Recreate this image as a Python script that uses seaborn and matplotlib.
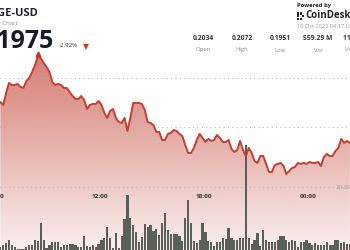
import numpy as np
import pandas as pd
import matplotlib
matplotlib.use("Agg")
import matplotlib.pyplot as plt
import seaborn as sns
from matplotlib.colors import to_rgb
from matplotlib.patches import Rectangle

sns.set_style("white")
plt.rcParams['font.family'] = ['Open Sans', 'DejaVu Sans']

# ---------------- data ----------------
times = pd.date_range("2025-10-15 06:15", periods=122, freq="10min")
hours = np.asarray((times - pd.Timestamp("2025-10-15")) / pd.Timedelta(hours=1))

price = [0.20255, 0.20224, 0.20347, 0.20449, 0.20428, 0.20428, 0.20439, 0.20408, 0.20398, 0.20469,
         0.20500, 0.20561, 0.20632, 0.20720, 0.20700, 0.20653, 0.20612, 0.20561, 0.20459, 0.20428,
         0.20439, 0.20428, 0.20398, 0.20398, 0.20357, 0.20316, 0.20286, 0.20286, 0.20316, 0.20275,
         0.20184, 0.20224, 0.20235, 0.20235, 0.20265, 0.20224, 0.20143, 0.20092, 0.20163, 0.20184,
         0.20092, 0.20051, 0.20041, 0.20092, 0.19959, 0.20092, 0.20245, 0.20245, 0.20245, 0.20235,
         0.20173, 0.20051, 0.20041, 0.20020, 0.19949, 0.19949, 0.19867, 0.19867, 0.19929, 0.19939,
         0.19969, 0.19959, 0.19929, 0.19908, 0.19816, 0.19735, 0.19735, 0.19786, 0.19867, 0.19929,
         0.19888, 0.19847, 0.19878, 0.19857, 0.19867, 0.19918, 0.19888, 0.19847, 0.19847, 0.19867,
         0.19776, 0.19745, 0.19765, 0.19857, 0.19765, 0.19704, 0.19786, 0.19735, 0.19653, 0.19633,
         0.19704, 0.19704, 0.19623, 0.19541, 0.19541, 0.19612, 0.19623, 0.19633, 0.19602, 0.19520,
         0.19551, 0.19582, 0.19592, 0.19633, 0.19623, 0.19633, 0.19623, 0.19643, 0.19633, 0.19633,
         0.19643, 0.19602, 0.19694, 0.19725, 0.19704, 0.19704, 0.19755, 0.19786, 0.19878, 0.19837,
         0.19857, 0.19837]

volume_m = [0.95, 1.59, 2.22, 3.18, 1.59, 0.95, 0.32, 0.32, 0.32, 0.95,
            1.59, 1.59, 3.18, 2.86, 8.57, 3.18, 0.64, 1.59, 2.54, 2.54,
            2.54, 0.95, 1.59, 1.59, 1.91, 1.91, 1.59, 0.95, 0.95, 4.45,
            1.27, 0.95, 1.59, 0.95, 1.91, 3.18, 3.81, 7.30, 3.81, 0.64,
            5.40, 0.64, 4.45, 9.84, 17.46, 10.16, 7.94, 5.72, 2.54, 4.13,
            8.26, 7.30, 7.94, 6.03, 6.67, 4.76, 8.57, 11.75, 6.35, 5.08,
            5.08, 5.08, 4.45, 2.86, 10.16, 15.87, 8.57, 2.86, 2.22, 3.18,
            8.57, 5.72, 2.86, 2.54, 1.27, 2.54, 2.54, 3.81, 3.49, 6.99,
            3.81, 3.18, 3.18, 3.81, 3.81, 33.34, 3.81, 1.91, 3.18, 5.40,
            1.27, 6.35, 3.18, 2.54, 2.54, 2.54, 3.18, 4.45, 4.45, 3.18,
            2.54, 3.18, 2.86, 0.95, 2.54, 2.54, 3.18, 2.22, 1.59, 2.22,
            1.59, 1.59, 1.59, 2.54, 1.59, 1.59, 3.18, 3.18, 2.22, 2.54,
            1.91, 1.91]

tick_hours = [6, 12, 18, 24]
tick_labels = ["06:00", "12:00", "18:00", "00:00"]
price_grid = [0.2000, 0.2050]
volume_grid = [20]

stat_values = ["0.2034", "0.2072", "0.1951", "559.29 M", "111.16 M"]
stat_names = ["Open", "High", "Low", "Vol", "Vol (USD)"]

# ---------------- layout constants ----------------
W, H = 350, 250
XMIN, XMAX = 6.231, 26.423
PMIN, PMAX = 0.18745, 0.21295
VMAX = 79.37
LINE_C = "#c23f33"

fig = plt.figure(figsize=(3.5, 2.5), dpi=100)
fig.patch.set_facecolor("white")

def px(x, y):
    return x / W, 1 - y / H

# price fill axis
ax = fig.add_axes([0, 0, 1, 1])
grad = np.linspace(1, 0, 256).reshape(-1, 1)
rgba = np.zeros((256, 1, 4))
rgba[..., :3] = to_rgb("#c0392b")
rgba[..., 3] = 0.08 + 0.74 * grad
im = ax.imshow(rgba, extent=[XMIN, XMAX, PMIN, PMAX], aspect="auto",
               origin="upper", zorder=1)
poly = ax.fill_between(hours, price, PMIN, color="none", lw=0)
im.set_clip_path(poly.get_paths()[0], transform=ax.transData)
for g in price_grid:
    ax.axhline(g, color="#b0b0b0", lw=0.7, ls=(0, (1, 3.5)), zorder=3)
ax.set_xlim(XMIN, XMAX)
ax.set_ylim(PMIN, PMAX)
ax.axis("off")

# volume axis
axv = fig.add_axes([0, 0, 1, 1])
axv.patch.set_alpha(0)
sns.barplot(x=hours, y=volume_m, native_scale=True, ax=axv, color="#5a6058",
            width=0.8, linewidth=0, errorbar=None, saturation=1)
for g in volume_grid:
    axv.axhline(g, color="#b0b0b0", lw=0.7, ls=(0, (1, 3.5)), zorder=0)
axv.set_xlim(XMIN, XMAX)
axv.set_ylim(0, VMAX)
axv.axis("off")

# price line axis
axl = fig.add_axes([0, 0, 1, 1])
axl.patch.set_alpha(0)
sns.lineplot(x=hours, y=price, ax=axl, color=LINE_C, lw=1.4)
imax = int(np.argmax(price))
axl.plot([hours[imax]], [price[imax] + 0.0002], marker="^", color="#c0392b",
         markersize=3.5, lw=0)
axl.set_xlim(XMIN, XMAX)
axl.set_ylim(PMIN, PMAX)
axl.axis("off")

# time labels
for th, tl in zip(tick_hours, tick_labels):
    axl.text(th, 1 - 196 / H, tl, transform=axl.get_xaxis_transform(),
             ha="center", va="center", fontsize=4.6, weight="bold", color="#333333")
axv.text(1 - 14 / W, 20, "20,000,000", transform=axv.get_yaxis_transform(),
         ha="left", va="center", fontsize=4.6, color="#9a9a9a")

# header texts
fig.text(*px(38, 13.5), "DOGE-USD", ha="right", va="center", fontsize=8,
         weight="bold", color="#1c2230")
fig.text(*px(18, 23.5), "24 Hour Chart", ha="right", va="center", fontsize=4.3,
         color="#8a8a8a")
fig.text(*px(53, 41), "0.1975", ha="right", va="center", fontsize=18,
         weight="bold", color="#151b27")
fig.text(*px(59, 46), "-2.92%", ha="left", va="center", fontsize=4.4, color="#333333")
fig.text(*px(86, 46.5), "▼", ha="center", va="center", fontsize=5.5, color="#c0392b",
         family=["DejaVu Sans"])

# powered by
fig.text(*px(297, 5), "Powered by", ha="left", va="center", fontsize=4.2,
         weight="bold", color="#222222")
for (cx, cy, s) in [(297, 12.5, 2), (297, 15, 2), (297, 17.5, 2), (299.5, 12.5, 2),
                    (299.5, 17.5, 2), (302, 15, 2)]:
    x0, y0 = px(cx, cy + s)
    fig.add_artist(Rectangle((x0, y0), s / W, s / H, transform=fig.transFigure,
                             color="#222222", lw=0))
fig.text(*px(305, 16), "CoinDesk", ha="left", va="center", fontsize=7,
         weight="bold", color="#222222")
fig.text(*px(297, 27), "16 Oct 2025 04:17 UTC", ha="left", va="center",
         fontsize=4.1, color="#9a9a9a")

stat_x = [203, 242, 280, 318, 358]
for sx, sv, sn in zip(stat_x, stat_values, stat_names):
    fig.text(*px(sx, 38), sv, ha="center", va="center", fontsize=4.9,
             weight="bold", color="#333333")
    fig.text(*px(sx, 50), sn, ha="center", va="center", fontsize=4.2,
             color="#8a8a8a")

fig.savefig("out.png", dpi=100, facecolor="white")
